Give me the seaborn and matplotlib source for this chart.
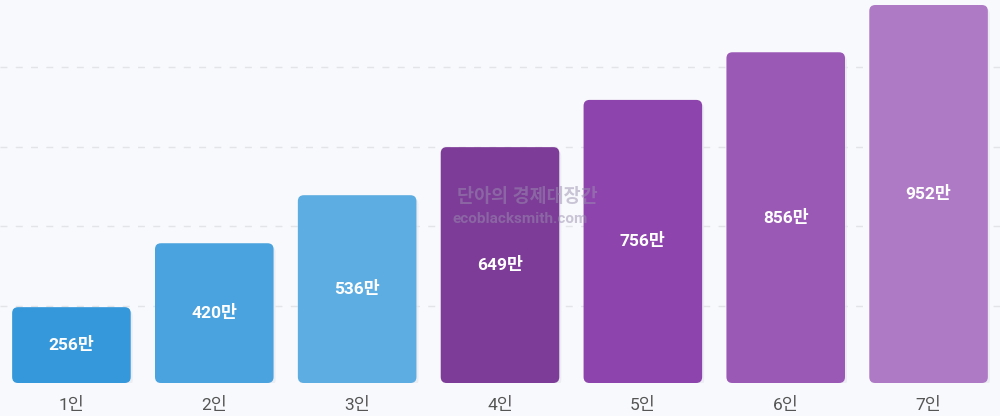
import numpy as np
import pandas as pd
import matplotlib
matplotlib.use("Agg")
import matplotlib.pyplot as plt
import seaborn as sns
from matplotlib.patches import FancyBboxPatch

# household size categories, bar heights and the printed labels
categories = ['1인', '2인', '3인', '4인', '5인', '6인', '7인']
bar_heights = [191, 352, 473, 594, 713, 833, 952]
value_labels = ['256만', '420만', '536만', '649만', '756만', '856만', '952만']
bar_colors = ['#3498db', '#4aa3df', '#5dade2', '#7d3c98', '#8e44ad', '#9b59b6', '#af7ac5']
grid_levels = [193, 395, 594, 796]

df = pd.DataFrame({'size': categories, 'value': bar_heights})

sns.set_theme(style='white')
plt.rcParams['font.family'] = ['Roboto', 'Noto Sans CJK KR', 'DejaVu Sans']

bg = '#f8f9fc'
fig = plt.figure(figsize=(10, 4.16), dpi=100)
fig.set_facecolor(bg)
ax = fig.add_axes([0, 33 / 416, 1, 383 / 416])
ax.set_facecolor(bg)

sns.barplot(data=df, x='size', y='value', hue='size', palette=bar_colors,
            width=0.83, legend=False, ax=ax)

ymax = 964.6
ax.set_xlim(-0.5, 6.5)
ax.set_ylim(0, ymax)

# swap plain bars for rounded ones
px_x = 1000 / 7.0          # pixels per x unit
px_y = 383 / ymax          # pixels per y unit
radius = 6 / px_x
aspect = px_x / px_y
for patch, col in zip(list(ax.patches), bar_colors):
    x0, w, h = patch.get_x(), patch.get_width(), patch.get_height()
    patch.remove()
    shadow = FancyBboxPatch((x0 + 2 / px_x, -3 / px_y), w, h,
                            boxstyle=f'round,pad=0,rounding_size={radius}',
                            mutation_aspect=aspect, facecolor='#e6e8f0',
                            edgecolor='none', zorder=2, alpha=0.7)
    ax.add_patch(shadow)
    rb = FancyBboxPatch((x0, 0), w, h,
                        boxstyle=f'round,pad=0,rounding_size={radius}',
                        mutation_aspect=aspect, facecolor=col,
                        edgecolor='none', zorder=3)
    ax.add_patch(rb)

for i, (h, lab) in enumerate(zip(bar_heights, value_labels)):
    ax.text(i, h / 2, lab, ha='center', va='center', color='white',
            fontsize=12.5, fontweight='bold', zorder=5)

# dashed grid
ax.set_yticks(grid_levels)
ax.yaxis.grid(True, color='#e2e4e8', linestyle=(0, (5, 6)), linewidth=1)
ax.set_axisbelow(True)
ax.tick_params(axis='y', left=False, labelleft=False)
ax.tick_params(axis='x', bottom=False, labelsize=12.5, labelcolor='#555555', pad=4)
ax.set_xlabel('')
ax.set_ylabel('')
for s in ax.spines.values():
    s.set_visible(False)

# watermark
ax.text(3.19, (383 - 197) / px_y, '단아의 경제대장간', ha='center', va='center',
        fontsize=13.3, fontweight='bold', color='#9a8fb0', alpha=0.5, zorder=6)
ax.text(3.14, (383 - 219) / px_y, 'ecoblacksmith.com', ha='center', va='center',
        fontsize=11, fontweight='bold', color='#9a8fb0', alpha=0.5, zorder=6)

fig.savefig('out.png', dpi=100, facecolor=bg)
